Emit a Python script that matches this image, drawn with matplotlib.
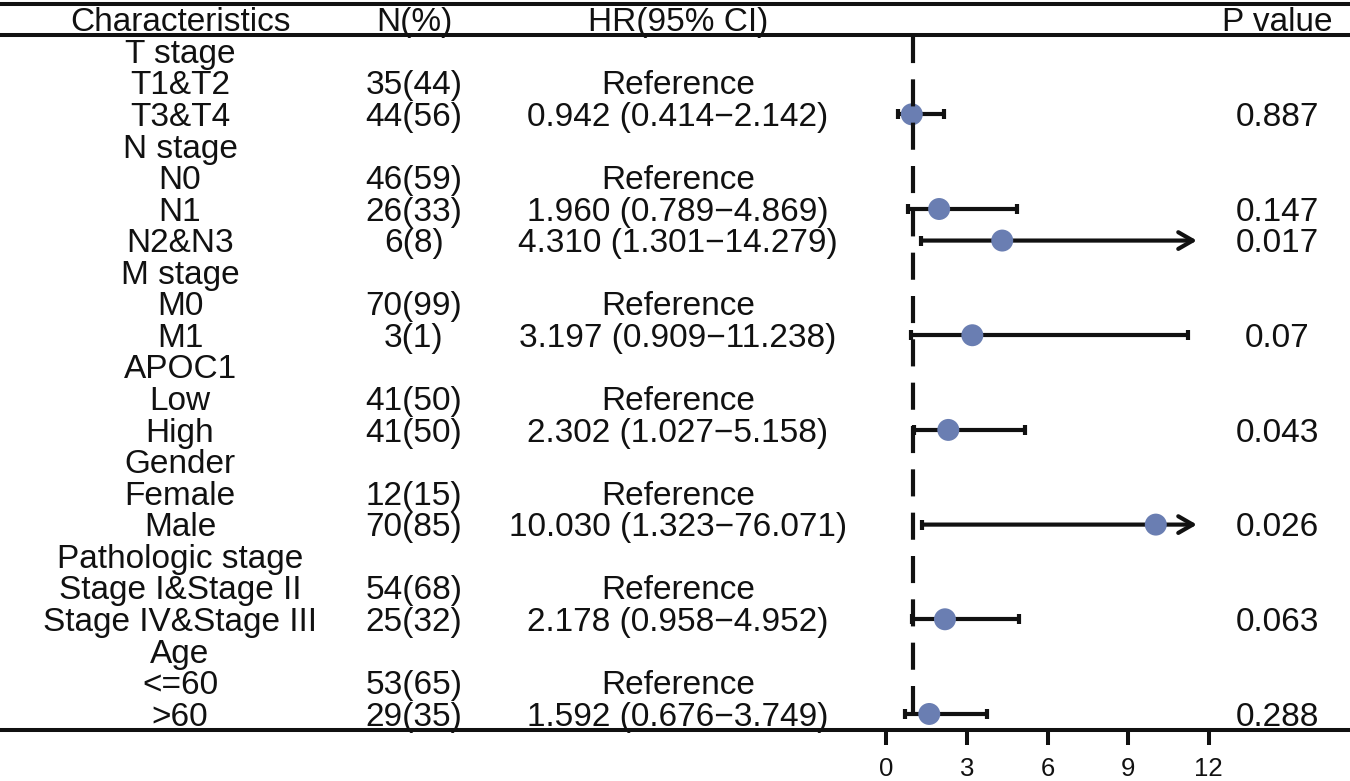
import numpy as np
import matplotlib
matplotlib.use("Agg")
import matplotlib.pyplot as plt
from matplotlib.patches import ArrowStyle

plt.rcParams['font.family'] = ['Liberation Sans', 'DejaVu Sans']

# ---------------- data ----------------
labels = ["T stage", "T1&T2", "T3&T4",
          "N stage", "N0", "N1", "N2&N3",
          "M stage", "M0", "M1",
          "APOC1", "Low", "High",
          "Gender", "Female", "Male",
          "Pathologic stage", "Stage I&Stage II", "Stage IV&Stage III",
          "Age", "<=60", ">60"]
n_count = [None, 35, 44, None, 46, 26, 6, None, 70, 3, None, 41, 41,
           None, 12, 70, None, 54, 25, None, 53, 29]
n_pct = [None, 44, 56, None, 59, 33, 8, None, 99, 1, None, 50, 50,
         None, 15, 85, None, 68, 32, None, 65, 35]
hr = [None, None, 0.942, None, None, 1.960, 4.310, None, None, 3.197, None, None, 2.302,
      None, None, 10.030, None, None, 2.178, None, None, 1.592]
hr_lo = [None, None, 0.414, None, None, 0.789, 1.301, None, None, 0.909, None, None, 1.027,
         None, None, 1.323, None, None, 0.958, None, None, 0.676]
hr_hi = [None, None, 2.142, None, None, 4.869, 14.279, None, None, 11.238, None, None, 5.158,
         None, None, 76.071, None, None, 4.952, None, None, 3.749]
pvals = ["", "", "0.887", "", "", "0.147", "0.017", "", "", "0.07", "", "", "0.043",
         "", "", "0.026", "", "", "0.063", "", "", "0.288"]
headers = ["Characteristics", "N(%)", "HR(95% CI)", "P value"]
xticks = [0, 3, 6, 9, 12]

# ---------------- style / layout ----------------
W, H = 1350, 781
INK = "#111111"
DOT = "#6A7EB2"
FS = 24
CLIP = 11.56          # arrow tip for CIs beyond the plotted range
ref_line = 1

fig = plt.figure(figsize=(W / 100, H / 100), dpi=100)
# axes spans full width; bottom spine is the full-width bottom rule
ax = fig.add_axes([0, (H - 730) / H, 1, 730 / H])
ax.set_xlim(-886.5 / 26.85, (W - 886.5) / 26.85)
ax.set_ylim((730 - 51.2) / 31.56, (0 - 51.2) / 31.56)

for s in ["top", "left", "right"]:
    ax.spines[s].set_visible(False)
ax.spines["bottom"].set_linewidth(2.9)
ax.spines["bottom"].set_color(INK)
ax.set_yticks([])
ax.set_xticks(xticks)
ax.set_xticklabels([str(t) for t in xticks], fontsize=18.5, color=INK)
ax.tick_params(axis="x", direction="out", length=11, width=2.9, color=INK, pad=8.5)

rows = np.arange(len(labels))
tr = ax.get_yaxis_transform()
BASE = 0.37   # baseline offset (rows) so caps are centred on the row

col_x = [180 / W, 414 / W, 678 / W, 1277 / W]

# header
for hx, htxt in zip(col_x, headers):
    ax.text(hx, -1 + BASE, htxt, transform=tr, ha="center", va="baseline",
            fontsize=FS, color=INK)

# horizontal rules
ax.axhline((3.5 - 51.2) / 31.56, color=INK, lw=2.9, clip_on=False)
ax.axhline((34.5 - 51.2) / 31.56, color=INK, lw=2.9, clip_on=False)

# table rows
for i in rows:
    ax.text(col_x[0], i + BASE, labels[i], transform=tr, ha="center", va="baseline",
            fontsize=FS, color=INK)
    if n_count[i] is not None:
        ax.text(col_x[1], i + BASE, f"{n_count[i]}({n_pct[i]})", transform=tr,
                ha="center", va="baseline", fontsize=FS, color=INK)
        if hr[i] is None:
            s = "Reference"
        else:
            s = f"{hr[i]:.3f} ({hr_lo[i]:.3f}\u2212{hr_hi[i]:.3f})"
        ax.text(col_x[2], i + BASE, s, transform=tr, ha="center", va="baseline",
                fontsize=FS, color=INK)
    if pvals[i]:
        ax.text(col_x[3], i + BASE, pvals[i], transform=tr, ha="center", va="baseline",
                fontsize=FS, color=INK)

# forest marks
est_rows = [i for i in rows if hr[i] is not None]
arrow = ArrowStyle("->", head_length=0.52, head_width=0.3)
for i in est_rows:
    lo, hi = hr_lo[i], hr_hi[i]
    if hi > CLIP:
        ax.annotate("", xy=(CLIP, i), xytext=(lo, i),
                    arrowprops=dict(arrowstyle=arrow, lw=3.0, color=INK,
                                    shrinkA=0, shrinkB=0, mutation_scale=20),
                    zorder=2)
        ax.plot([lo], [i], marker="|", ms=7.5, mew=3.0, color=INK, zorder=2)
    else:
        ax.hlines(i, lo, hi, color=INK, lw=3.0, zorder=2)
        ax.plot([lo, hi], [i, i], ls="none", marker="|", ms=7.5, mew=3.0,
                color=INK, zorder=2)

ax.scatter([hr[i] for i in est_rows], est_rows, s=250, color=DOT,
           edgecolors="none", zorder=3)

ax.vlines(ref_line, (36 - 51.2) / 31.56, (730 - 51.2) / 31.56, colors=INK, lw=3.0,
          linestyles=(0, (6.5, 3.9)), zorder=4)

fig.savefig("out.png", dpi=100)
